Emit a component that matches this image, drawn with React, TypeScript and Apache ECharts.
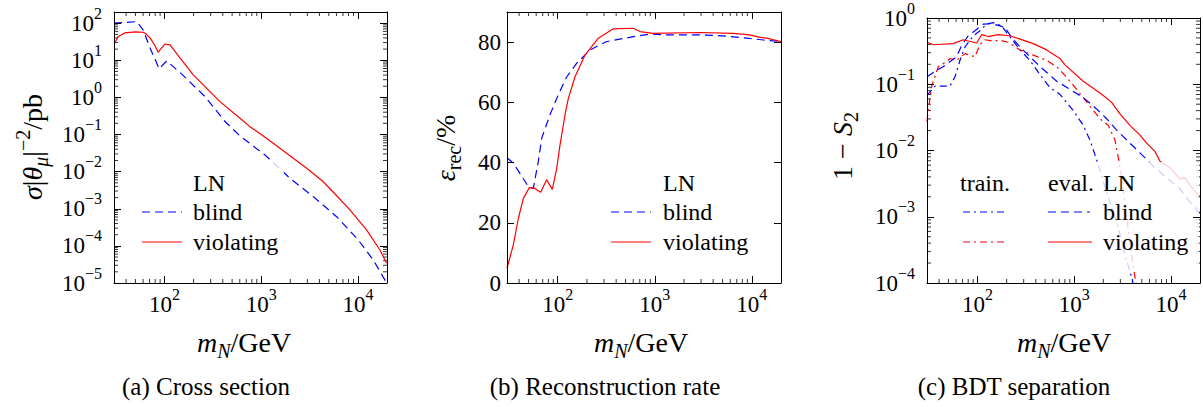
import React, { useEffect, useRef } from 'react';
import * as echarts from 'echarts';

const FONT = 'Liberation Serif';
const RED = '#ff0000';
const BLUE = '#0000ff';

// ---------- shared axis range ----------
const X_MIN = 30;
const X_MAX = 20000;

// ---------- (a) Cross section ----------
const aBlindMass = [30, 51.5, 60, 71, 88, 105, 150, 262, 422, 603, 1091, 1982, 3451, 6026, 10070, 14420, 19820];
const aBlindXsec = [100, 110, 66, 21, 5.9, 9.6, 4.3, 1.05, 0.224, 0.0916, 0.0282, 0.00664, 0.00212, 6.12e-4, 1.45e-4, 4.17e-5, 1.0e-5];
const aViolMass = [30, 33.3, 39, 50, 60, 65, 71, 78, 86, 101, 114, 145, 198, 374, 603, 764, 1017, 1330, 2950, 4300, 5800, 8260, 12300, 16900, 19800];
const aViolXsec = [27, 44, 55, 58, 57, 50, 39.5, 27, 16.5, 27.5, 26, 11.4, 4.04, 0.77, 0.275, 0.163, 0.0975, 0.0582, 0.0123, 0.0056, 0.0025, 9.3e-4, 2.69e-4, 7.76e-5, 3.39e-5];

// ---------- (b) Reconstruction rate ----------
const bBlindMass = [30, 34.8, 40.8, 49.8, 56, 63, 68.4, 83, 101, 124, 157, 215, 320, 603, 893, 1320, 2930, 5500, 8870, 13200, 20000];
const bBlindRate = [41.6, 39.8, 36.4, 32.0, 31.4, 40.3, 48.1, 55.8, 62.4, 68.5, 73.0, 77.4, 80.2, 81.8, 82.7, 82.4, 82.4, 82.0, 81.3, 80.7, 80.2];
const bViolMass = [30, 34.8, 39.3, 44.2, 51, 58, 66.7, 76.9, 87.9, 97.6, 105.5, 118.8, 128.6, 150.7, 191, 262, 374, 597, 705, 966, 2930, 6460, 9550, 12200, 14260, 20000];
const bViolRate = [4.9, 12.6, 21.5, 28.1, 31.7, 31.4, 30.1, 34.3, 31.1, 38.1, 45.8, 55.8, 61.3, 68.5, 75.7, 81.3, 84.4, 84.6, 83.5, 82.9, 83.2, 82.9, 82.4, 81.6, 81.3, 80.2];

// ---------- (c) BDT separation ----------
const cViolEvalMass = [30, 34.8, 56, 71, 98, 110, 129, 164, 216, 275, 377, 519, 711, 802, 1239, 1923, 2438, 2972, 3767, 4786, 5610, 6839, 7709, 9772, 12390, 13960, 15740, 19950];
const cViolEvalSep = [0.43, 0.395, 0.41, 0.47, 0.42, 0.56, 0.525, 0.56, 0.54, 0.48, 0.41, 0.33, 0.245, 0.196, 0.111, 0.0706, 0.0532, 0.0358, 0.024, 0.0171, 0.0129, 0.0097, 0.0069, 0.0055, 0.0037, 0.0039, 0.0030, 0.0020];
const cBlindEvalMass = [30, 36.3, 44.3, 60.8, 68.5, 80.2, 94, 115, 140, 171, 192, 225, 275, 348, 443, 658, 904, 1239, 1702, 2163, 2742, 3622, 4786, 6577, 9036, 12390, 15740, 19950];
const cBlindEvalSep = [0.13, 0.156, 0.185, 0.26, 0.386, 0.54, 0.64, 0.81, 0.82, 0.76, 0.72, 0.51, 0.365, 0.26, 0.185, 0.111, 0.0837, 0.063, 0.0424, 0.0302, 0.0203, 0.0137, 0.0092, 0.0058, 0.0039, 0.00264, 0.00168, 0.00113];
const cBlindTrainMass = [30, 36.3, 51.9, 58.5, 65.8, 74.1, 90.4, 106, 124, 146, 177, 275, 348, 443, 561, 711, 977, 1239, 1452, 1702, 2163, 2742, 3475, 3917, 4200];
const cBlindTrainSep = [0.068, 0.094, 0.094, 0.13, 0.23, 0.365, 0.54, 0.64, 0.81, 0.85, 0.76, 0.33, 0.23, 0.139, 0.089, 0.0706, 0.040, 0.024, 0.0144, 0.0073, 0.00236, 0.00085, 0.00022, 0.000124, 0.00008];
const cViolTrainMass = [30, 31, 33.6, 39.3, 48, 51.9, 60.8, 74.1, 94, 106, 119, 140, 171, 208, 275, 377, 519, 684, 904, 1239, 1574, 1923, 2249, 2636, 2972, 3342, 3767, 4246, 4500];
const cViolTrainSep = [0.027, 0.042, 0.094, 0.185, 0.22, 0.245, 0.23, 0.29, 0.26, 0.40, 0.47, 0.45, 0.46, 0.43, 0.33, 0.275, 0.23, 0.175, 0.111, 0.063, 0.040, 0.0285, 0.024, 0.0144, 0.0058, 0.00168, 0.000385, 0.000124, 0.00008];

// ---------- texts ----------
const captions = ['(a) Cross section', '(b) Reconstruction rate', '(c) BDT separation'];
const bYTicks = [0, 20, 40, 60, 80];

const pairs = (xs: number[], ys: number[]) => xs.map((x, i) => [x, ys[i]]);

function minorLogValues(min: number, max: number) {
  const out: number[] = [];
  for (let e = Math.floor(Math.log10(min)) - 1; e <= Math.ceil(Math.log10(max)); e++) {
    for (let k = 2; k <= 9; k++) {
      const v = k * Math.pow(10, e);
      if (v > min * 1.0001 && v < max * 0.9999) out.push(v);
    }
  }
  return out;
}

const tickRich = {
  b: { fontSize: 23, fontFamily: FONT, color: '#000', lineHeight: 36 },
  s: { fontSize: 16, fontFamily: FONT, color: '#000', lineHeight: 14, verticalAlign: 'top' },
};

function logLabel(v: number) {
  const e = Math.log10(v);
  const r = Math.round(e);
  if (Math.abs(e - r) > 1e-6) return '';
  return '{b|10}{s|' + (r < 0 ? '\u2212' + -r : String(r)) + '}';
}

const mathRich: any = {
  r: { fontSize: 28, fontFamily: FONT, lineHeight: 38, fill: '#000' },
  i: { fontSize: 28, fontFamily: FONT, fontStyle: 'italic', lineHeight: 38, fill: '#000' },
  sub: { fontSize: 20, fontFamily: FONT, fontStyle: 'italic', lineHeight: 26, verticalAlign: 'bottom', fill: '#000' },
  subr: { fontSize: 20, fontFamily: FONT, lineHeight: 26, verticalAlign: 'bottom', fill: '#000' },
  sup: { fontSize: 20, fontFamily: FONT, lineHeight: 18, verticalAlign: 'top', fill: '#000' },
};

const GRIDS = [
  { left: 114, top: 12, width: 273, height: 271 },
  { left: 507, top: 12, width: 274, height: 271 },
  { left: 927, top: 12, width: 273, height: 271 },
];

const axisLine = { show: true, onZero: false, lineStyle: { color: '#000', width: 1 } };
const axisTick = { show: true, inside: true, length: 7, lineStyle: { color: '#000', width: 1 } };

function xAxesFor(gridIndex: number) {
  const common: any = {
    type: 'log', logBase: 10, gridIndex, min: X_MIN, max: X_MAX, z: 10,
    axisLine, axisTick, splitLine: { show: false }, minorTick: { show: false },
  };
  return [
    { ...common, position: 'bottom', axisLabel: { margin: 3, fontFamily: FONT, formatter: logLabel, rich: tickRich } },
    { ...common, position: 'top', axisLabel: { show: false } },
  ];
}

function yLogAxesFor(gridIndex: number, min: number, max: number, margin: number) {
  const common: any = {
    type: 'log', logBase: 10, gridIndex, min, max, z: 10,
    axisLine, axisTick, splitLine: { show: false }, minorTick: { show: false },
  };
  return [
    { ...common, position: 'left', axisLabel: { margin, fontFamily: FONT, formatter: logLabel, rich: tickRich } },
    { ...common, position: 'right', axisLabel: { show: false } },
  ];
}

function yLinAxesFor(gridIndex: number) {
  const common: any = {
    type: 'value', gridIndex, min: 0, max: 90, interval: 20, z: 10,
    axisLine, axisTick, splitLine: { show: false },
  };
  return [
    {
      ...common, position: 'left',
      axisLabel: {
        margin: 6, fontSize: 23, fontFamily: FONT, color: '#000',
        formatter: (v: number) => (bYTicks.indexOf(v) >= 0 ? String(v) : ''),
      },
    },
    { ...common, position: 'right', axisLabel: { show: false } },
  ];
}

function minorTickSeries(xAxisIndex: number, yAxisIndex: number, xVals: number[], yRef: number, yVals: number[], xRef: number) {
  const data: number[][] = [];
  xVals.forEach((v) => data.push([v, yRef, 0]));
  yVals.forEach((v) => data.push([xRef, v, 1]));
  return {
    type: 'custom', xAxisIndex, yAxisIndex, silent: true, clip: false, z: 1,
    data,
    renderItem: (params: any, api: any) => {
      const cs = params.coordSys;
      const p = api.coord([api.value(0), api.value(1)]);
      const kind = api.value(2);
      const st = { stroke: '#000', lineWidth: 0.8 };
      const L = 4;
      if (kind === 0) {
        return {
          type: 'group', children: [
            { type: 'line', shape: { x1: p[0], y1: cs.y + cs.height, x2: p[0], y2: cs.y + cs.height - L }, style: st },
            { type: 'line', shape: { x1: p[0], y1: cs.y, x2: p[0], y2: cs.y + L }, style: st },
          ],
        };
      }
      return {
        type: 'group', children: [
          { type: 'line', shape: { x1: cs.x, y1: p[1], x2: cs.x + L, y2: p[1] }, style: st },
          { type: 'line', shape: { x1: cs.x + cs.width, y1: p[1], x2: cs.x + cs.width - L, y2: p[1] }, style: st },
        ],
      };
    },
  };
}

function lineSeries(name: string, xAxisIndex: number, yAxisIndex: number, data: number[][], color: string, dash: any) {
  return {
    name, type: 'line', xAxisIndex, yAxisIndex, data, showSymbol: false, symbol: 'none',
    smooth: false, clip: true, z: 3,
    lineStyle: { color, width: 1.2, type: dash },
  };
}

const DASHED = [8, 5];
const DASHDOT = [7, 4, 2, 4];

function plainText(x: number, y: number, text: string, align = 'left', size = 24) {
  return {
    type: 'text', x, y, z: 51,
    style: { text, fontSize: size, fontFamily: FONT, fill: '#000', align, verticalAlign: 'middle' },
  };
}
function legendLine(x1: number, x2: number, y: number, color: string, dash: any) {
  return {
    type: 'line', z: 51,
    shape: { x1, y1: y, x2, y2: y },
    style: { stroke: color, lineWidth: 1.2, lineDash: dash },
  };
}
function legendBox(x: number, y: number, w: number, h: number) {
  return { type: 'rect', z: 5, shape: { x, y, width: w, height: h }, style: { fill: 'rgba(255,255,255,0.8)' } };
}
function mathText(x: number, y: number, text: string, rotate = false) {
  return {
    type: 'text', x, y, z: 51, rotation: rotate ? Math.PI / 2 : 0,
    style: { text, rich: mathRich, align: 'center', verticalAlign: 'middle', fontSize: 28, fontFamily: FONT, fill: '#000' },
  };
}

export default function App() {
  const ref = useRef<HTMLDivElement>(null);

  useEffect(() => {
    if (!ref.current) return;
    const chart = echarts.init(ref.current, null, { renderer: 'svg' });

    const xMinor = minorLogValues(X_MIN, X_MAX);

    const option: any = {
      animation: false,
      backgroundColor: '#ffffff',
      textStyle: { fontFamily: FONT },
      grid: GRIDS.map((g) => ({ ...g, containLabel: false })),
      xAxis: [...xAxesFor(0), ...xAxesFor(1), ...xAxesFor(2)],
      yAxis: [...yLogAxesFor(0, 1e-5, 200, 12), ...yLinAxesFor(1), ...yLogAxesFor(2, 1e-4, 1, 12)],
      series: [
        lineSeries('blind', 0, 0, pairs(aBlindMass, aBlindXsec), BLUE, DASHED),
        lineSeries('violating', 0, 0, pairs(aViolMass, aViolXsec), RED, 'solid'),
        minorTickSeries(0, 0, xMinor, 1e-5, minorLogValues(1e-5, 200), X_MIN),
        lineSeries('blind', 2, 2, pairs(bBlindMass, bBlindRate), BLUE, DASHED),
        lineSeries('violating', 2, 2, pairs(bViolMass, bViolRate), RED, 'solid'),
        minorTickSeries(2, 2, xMinor, 0, [], X_MIN),
        lineSeries('blind train', 4, 4, pairs(cBlindTrainMass, cBlindTrainSep), BLUE, DASHDOT),
        lineSeries('violating train', 4, 4, pairs(cViolTrainMass, cViolTrainSep), RED, DASHDOT),
        lineSeries('blind eval', 4, 4, pairs(cBlindEvalMass, cBlindEvalSep), BLUE, DASHED),
        lineSeries('violating eval', 4, 4, pairs(cViolEvalMass, cViolEvalSep), RED, 'solid'),
        minorTickSeries(4, 4, xMinor, 1e-4, minorLogValues(1e-4, 1), X_MIN),
      ],
      graphic: [
        legendBox(137, 162, 147, 110),
        plainText(193, 183, 'LN'),
        legendLine(142, 182, 212, BLUE, DASHED),
        plainText(193, 212, 'blind'),
        legendLine(142, 182, 242, RED, null),
        plainText(193, 242, 'violating'),
        legendBox(606, 162, 147, 110),
        plainText(663, 183, 'LN'),
        legendLine(611, 651, 212, BLUE, DASHED),
        plainText(663, 212, 'blind'),
        legendLine(611, 651, 242, RED, null),
        plainText(663, 242, 'violating'),
        legendBox(955, 162, 244, 110),
        plainText(960, 183, 'train.'),
        plainText(1048, 183, 'eval.'),
        plainText(1103, 183, 'LN'),
        legendLine(963, 1005, 212, BLUE, DASHDOT),
        legendLine(1048, 1090, 212, BLUE, DASHED),
        plainText(1103, 212, 'blind'),
        legendLine(963, 1007, 242, RED, DASHDOT),
        legendLine(1048, 1092, 242, RED, null),
        plainText(1103, 242, 'violating'),
        mathText(32, 147, '{i|σ}{r||}{i|θ}{sub|μ}{r||}{sup|\u22122}{r|/pb}', true),
        mathText(445, 148, '{i|ε}{subr|rec}{r|/%}', true),
        mathText(842, 146, '{r|1 \u2212 }{i|S}{subr|2}', true),
        mathText(244, 342, '{i|m}{sub|N}{r|/GeV}'),
        mathText(641, 342, '{i|m}{sub|N}{r|/GeV}'),
        mathText(1064, 342, '{i|m}{sub|N}{r|/GeV}'),
        plainText(206, 386, captions[0], 'center', 25),
        plainText(605, 386, captions[1], 'center', 25),
        plainText(1014, 386, captions[2], 'center', 25),
      ],
    };

    chart.setOption(option);
    return () => chart.dispose();
  }, []);

  return (
    <div
      ref={ref}
      style={{ position: 'absolute', left: 0, top: 0, width: 1203, height: 407, background: '#fff' }}
    />
  );
}
